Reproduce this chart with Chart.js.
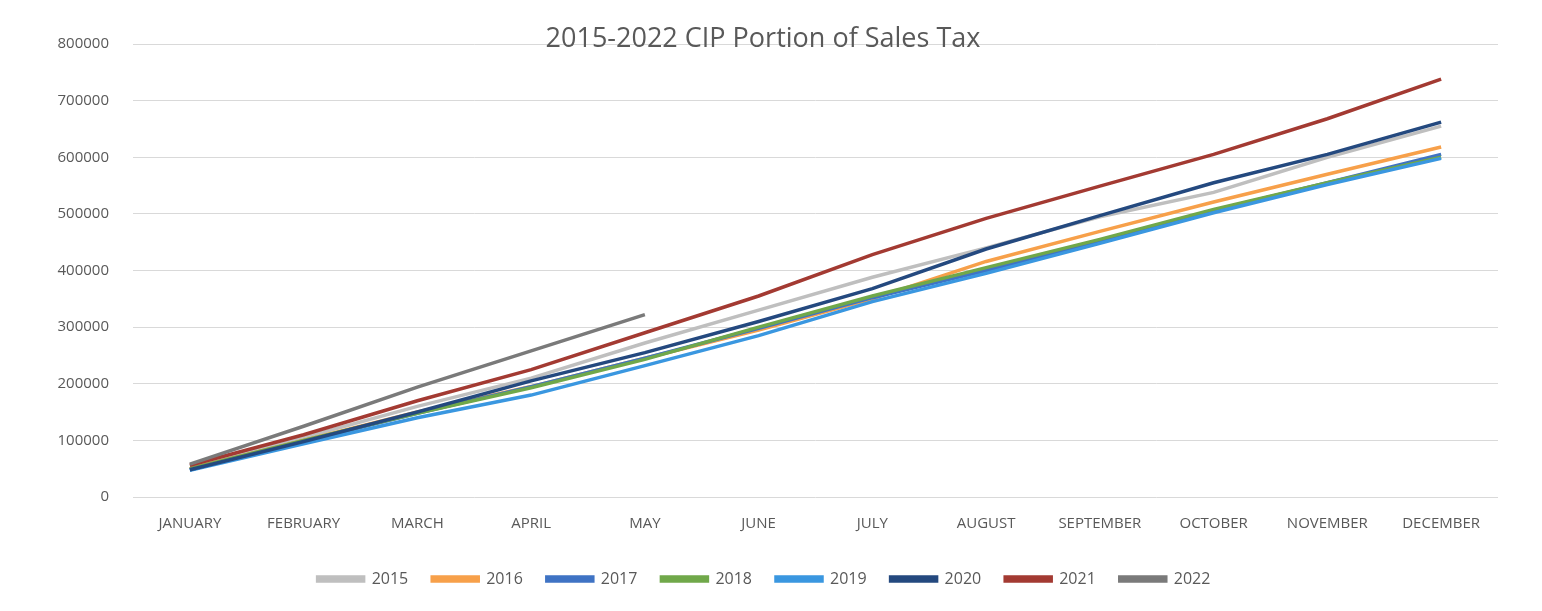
<!DOCTYPE html>
<html>
<head>
<meta charset="utf-8">
<script src="https://cdn.jsdelivr.net/npm/chart.js@4"></script>
<style>
  html, body { margin: 0; padding: 0; background: #fff; }
  #wrap { width: 1542px; height: 611px; position: relative; }
</style>
</head>
<body>
<div id="wrap"><canvas id="salesTaxChart"></canvas></div>
<script>
// months on the x axis
const months = ['JANUARY', 'FEBRUARY', 'MARCH', 'APRIL', 'MAY', 'JUNE', 'JULY',
    'AUGUST', 'SEPTEMBER', 'OCTOBER', 'NOVEMBER', 'DECEMBER'];

// cumulative CIP portion
const y2015 = [55000, 105000, 160000, 210000, 272000, 330000, 388000, 440000, 495000, 538000, 600000, 655000];
const y2016 = [50000, 100000, 150000, 195000, 245000, 295000, 350000, 416000, 469000, 521000, 570000, 618000];
const y2017 = [48000, 98000, 148000, 195000, 245000, 298000, 352000, 400000, 452000, 506000, 555000, 605000];
const y2018 = [50000, 100000, 148000, 193000, 243000, 300000, 355000, 405000, 455000, 508000, 555000, 600000];
const y2019 = [47000, 94000, 140000, 180000, 232000, 285000, 345000, 395000, 448000, 502000, 552000, 598000];
const y2020 = [48000, 98000, 150000, 205000, 255000, 310000, 368000, 438000, 497000, 555000, 605000, 662000];
const y2021 = [56000, 110000, 170000, 225000, 290000, 355000, 428000, 492000, 549000, 605000, 668000, 738000];
const y2022 = [58000, 125000, 194000, 258000, 322000];

const yearLabels = ['2015', '2016', '2017', '2018', '2019', '2020', '2021', '2022'];
const yTicks = [0, 100000, 200000, 300000, 400000, 500000, 600000, 700000, 800000];
const chartTitle = '2015-2022 CIP Portion of Sales Tax';

const seriesValues = [y2015, y2016, y2017, y2018, y2019, y2020, y2021, y2022];
const seriesColors = ['#bfbfbf', '#f7a04a', '#3f73c4', '#70a84a', '#3a97e0', '#24497f', '#a33a32', '#7a7a7a'];

const textColor = '#595959';
const fontFamily = '"Open Sans", Lato, sans-serif';

// title sits right on top of the 800000 gridline, so draw it by hand
const overlayTitle = {
    id: 'overlayTitle',
    afterDraw(chart) {
        const ctx = chart.ctx;
        ctx.save();
        ctx.font = '27px ' + fontFamily;
        ctx.fillStyle = textColor;
        ctx.textAlign = 'center';
        ctx.textBaseline = 'alphabetic';
        ctx.fillText(chartTitle, 763, 47);
        ctx.restore();
    }
};

function initChart() {
    const ctx = document.getElementById('salesTaxChart').getContext('2d');
    new Chart(ctx, {
        type: 'line',
        data: {
            labels: months,
            datasets: seriesValues.map((vals, i) => ({
                label: yearLabels[i],
                data: vals,
                borderColor: seriesColors[i],
                backgroundColor: seriesColors[i],
                borderWidth: 3.5,
                pointRadius: 0,
                tension: 0,
                fill: false,
                // later years drawn on top
                order: seriesValues.length - i
            }))
        },
        options: {
            responsive: true,
            maintainAspectRatio: false,
            animation: false,
            layout: { padding: { top: 44, right: 14, left: 0, bottom: 14 } },
            plugins: {
                title: { display: false },
                tooltip: { enabled: false },
                legend: {
                    position: 'bottom',
                    labels: {
                        sort: (a, b) => a.datasetIndex - b.datasetIndex,
                        boxWidth: 46,
                        boxHeight: 4,
                        padding: 24,
                        color: textColor,
                        font: { family: fontFamily, size: 16 }
                    }
                }
            },
            scales: {
                x: {
                    offset: true,
                    grid: { display: false },
                    border: { display: false },
                    ticks: {
                        color: textColor,
                        padding: 10,
                        maxRotation: 0,
                        font: { family: fontFamily, size: 15 }
                    },
                    afterFit(scale) { scale.height = 50; }
                },
                y: {
                    min: 0,
                    max: 800000,
                    afterBuildTicks(scale) { scale.ticks = yTicks.map(v => ({ value: v })); },
                    grid: { color: '#d9d9d9', lineWidth: 1, drawTicks: false },
                    border: { display: false },
                    ticks: {
                        color: textColor,
                        padding: 24,
                        callback: v => String(v),
                        font: { family: fontFamily, size: 15 }
                    },
                    afterFit(scale) { scale.width = 133; }
                },
                // empty right-hand strip so the legend centres like the original
                yRight: {
                    position: 'right',
                    min: 0,
                    max: 800000,
                    grid: { display: false },
                    border: { display: false },
                    ticks: { display: false },
                    afterFit(scale) { scale.width = 30; }
                }
            }
        },
        plugins: [overlayTitle]
    });
}

document.addEventListener('DOMContentLoaded', initChart);
</script>
</body>
</html>
